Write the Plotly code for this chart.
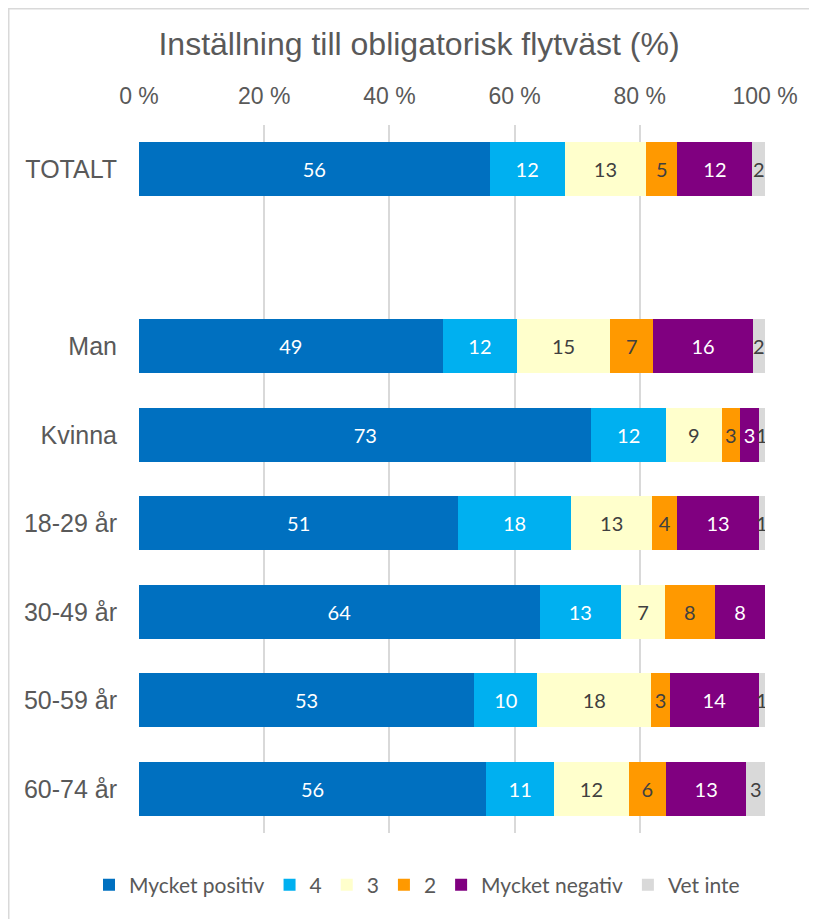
import plotly.graph_objects as go

# ---- data ----
categories = ["TOTALT", " ", "Man", "Kvinna", "18-29 år", "30-49 år", "50-59 år", "60-74 år"]
series_names = ["Mycket positiv", "4", "3", "2", "Mycket negativ", "Vet inte"]
mycket_positiv = [56, None, 49, 73, 51, 64, 53, 56]
fyra = [12, None, 12, 12, 18, 13, 10, 11]
tre = [13, None, 15, 9, 13, 7, 18, 12]
tva = [5, None, 7, 3, 4, 8, 3, 6]
mycket_negativ = [12, None, 16, 3, 13, 8, 14, 13]
vet_inte = [2, None, 2, 1, 1, 0, 1, 3]
tick_vals = [0, 20, 40, 60, 80, 100]
tick_text = ["0 %", "20 %", "40 %", "60 %", "80 %", "100 %"]

series_values = [mycket_positiv, fyra, tre, tva, mycket_negativ, vet_inte]
colors = ["#0070C0", "#00B0F0", "#FFFFCC", "#FF9900", "#800080", "#D9D9D9"]
text_colors = ["#FFFFFF", "#FFFFFF", "#404040", "#404040", "#FFFFFF", "#404040"]

# ---- layout geometry (figure pixels; page has an 8px body margin) ----
W, H = 809, 911
L, T = 131, 117
pw, ph = 626, 708
R, B = W - L - pw, H - T - ph

def px_x(p):
    return (p - L) / pw

def px_y(p):
    return (T + ph - p) / ph

fig = go.Figure()
for name, vals, col, tcol in zip(series_names, series_values, colors, text_colors):
    fig.add_trace(go.Bar(
        name=name,
        y=categories,
        x=vals,
        orientation="h",
        marker=dict(color=col, line=dict(width=0)),
        text=["" if (v is None or v == 0) else str(v) for v in vals],
        textposition="inside",
        insidetextanchor="middle",
        textangle=0,
        constraintext="none",
        textfont=dict(family="Lato", size=20, color=tcol),
        hoverinfo="skip",
    ))

fig.update_layout(
    width=W, height=H,
    barmode="stack",
    barnorm="percent",
    bargap=0.39,
    margin=dict(l=L, r=R, t=T, b=B, pad=0, autoexpand=False),
    paper_bgcolor="white",
    plot_bgcolor="white",
    uniformtext=dict(minsize=20, mode="show"),
    title=dict(
        text="Inställning till obligatorisk flytväst (%)",
        font=dict(family="Liberation Sans", size=32, color="#595959"),
        x=411 / W, xanchor="center", xref="container",
        y=1 - 36 / H, yanchor="middle", yref="container",
    ),
    xaxis=dict(
        side="top",
        range=[0, 100],
        tickvals=tick_vals,
        ticktext=tick_text,
        showgrid=True,
        gridcolor="#D9D9D9",
        gridwidth=2,
        zeroline=False,
        showline=False,
        ticks="",
        tickfont=dict(family="Liberation Sans", size=23, color="#595959"),
        ticklabelstandoff=15,
        automargin=False,
        fixedrange=True,
    ),
    yaxis=dict(
        type="category",
        categoryorder="array",
        categoryarray=categories,
        autorange="reversed",
        showgrid=False,
        zeroline=False,
        showline=False,
        ticks="",
        tickfont=dict(family="Liberation Sans", size=25, color="#595959"),
        ticklabelstandoff=21,
        automargin=False,
        fixedrange=True,
    ),
    legend=dict(
        orientation="h",
        xref="paper", yref="paper",
        x=px_x(81), xanchor="left",
        y=px_y(877), yanchor="middle",
        font=dict(family="Lato", size=21, color="#595959"),
        itemwidth=30,
        traceorder="normal",
        bgcolor="rgba(0,0,0,0)",
    ),
    showlegend=True,
)

# chart border (light gray frame visible at left and top)
fig.add_shape(
    type="rect", xref="paper", yref="paper",
    x0=px_x(0.5), x1=px_x(900), y0=px_y(1000), y1=px_y(0.5),
    line=dict(color="#D9D9D9", width=2),
    fillcolor="rgba(0,0,0,0)", layer="below",
)

fig.write_html("out.html")
